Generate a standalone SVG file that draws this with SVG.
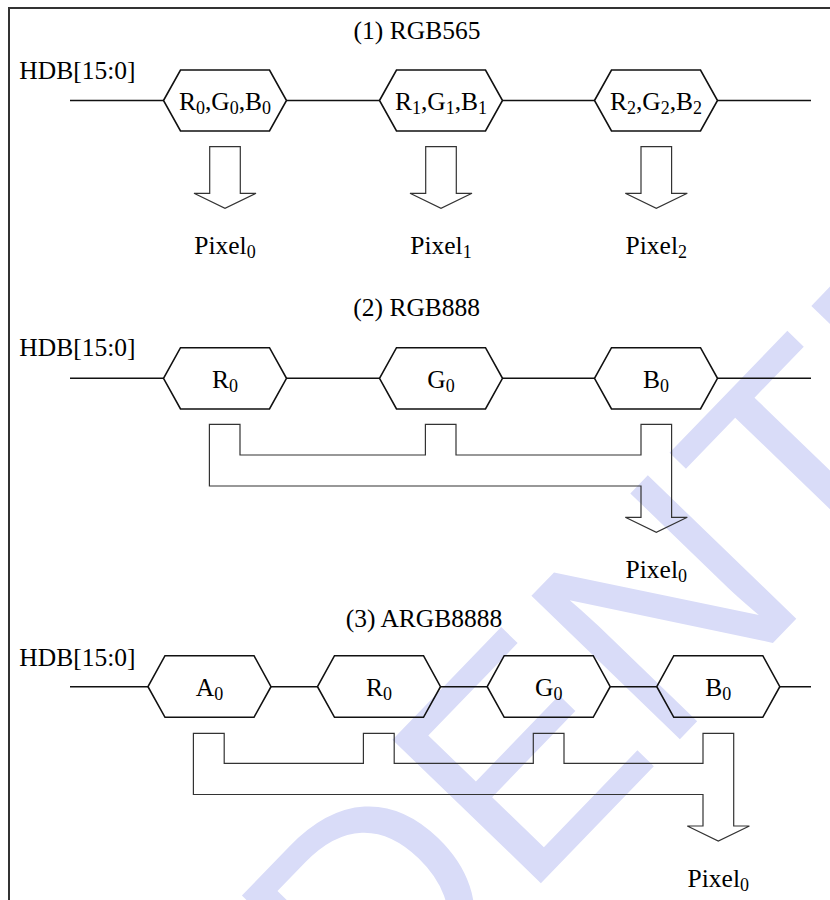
<svg xmlns="http://www.w3.org/2000/svg" width="830" height="900" viewBox="0 0 830 900">
<style>
.t{font-family:"Liberation Serif","Times New Roman",serif;font-size:25.5px;fill:#000}
.s{font-size:18px}
.hex{fill:none;stroke:#111;stroke-width:1.6}
.wire{fill:none;stroke:#111;stroke-width:1.5}
.blk{fill:none;stroke:#333;stroke-width:1.2}
.wm{font-family:"Liberation Sans",Arial,sans-serif;font-size:300px;fill:#d9dcf8}
</style>
<rect width="830" height="900" fill="#fff"/>
<text class="wm" transform="translate(-275,1728) rotate(-46)">CONFIDENTIAL</text>
<path d="M9,900 V8 H830" fill="none" stroke="#333" stroke-width="2"/>

<g id="sec1">
<text class="t" x="417" y="39" text-anchor="middle">(1) RGB565</text>
<text class="t" x="19.3" y="78.5">HDB[15:0]</text>
<g id="s1_p0"><path class="hex" d="M163.5,100.5 L180.5,70 H269.5 L286.5,100.5 L269.5,131 H180.5 Z"/><text class="t" x="225" y="109.7" text-anchor="middle">R<tspan class="s" dy="4">0</tspan><tspan dy="-4">,G</tspan><tspan class="s" dy="4">0</tspan><tspan dy="-4">,B</tspan><tspan class="s" dy="4">0</tspan></text></g>
<g id="s1_p1"><path class="hex" d="M379.5,100.5 L396.5,70 H485.5 L502.5,100.5 L485.5,131 H396.5 Z"/><text class="t" x="441" y="109.7" text-anchor="middle">R<tspan class="s" dy="4">1</tspan><tspan dy="-4">,G</tspan><tspan class="s" dy="4">1</tspan><tspan dy="-4">,B</tspan><tspan class="s" dy="4">1</tspan></text></g>
<g id="s1_p2"><path class="hex" d="M594.5,100.5 L611.5,70 H700.5 L717.5,100.5 L700.5,131 H611.5 Z"/><text class="t" x="656" y="109.7" text-anchor="middle">R<tspan class="s" dy="4">2</tspan><tspan dy="-4">,G</tspan><tspan class="s" dy="4">2</tspan><tspan dy="-4">,B</tspan><tspan class="s" dy="4">2</tspan></text></g>
<g id="s1_a0"><path class="blk" d="M209.7,146.7 H240.3 V193.3 H256 L225,208.3 L194,193.3 H209.7 Z"/><text class="t" x="225" y="254" text-anchor="middle">Pixel<tspan class="s" dy="4">0</tspan></text></g>
<g id="s1_a1"><path class="blk" d="M425.7,146.7 H456.3 V193.3 H472 L441,208.3 L410,193.3 H425.7 Z"/><text class="t" x="441" y="254" text-anchor="middle">Pixel<tspan class="s" dy="4">1</tspan></text></g>
<g id="s1_a2"><path class="blk" d="M641,146.7 H671.6 V193.3 H687.3 L656.3,208.3 L625.3,193.3 H641 Z"/><text class="t" x="656.3" y="254" text-anchor="middle">Pixel<tspan class="s" dy="4">2</tspan></text></g>
</g>

<g id="sec2">
<text class="t" x="416.7" y="316" text-anchor="middle">(2) RGB888</text>
<text class="t" x="19.3" y="355.5">HDB[15:0]</text>
<g id="s2_r"><path class="hex" d="M163.5,378.3 L180.5,347.7 H269.5 L286.5,378.3 L269.5,409 H180.5 Z"/><text class="t" x="225" y="387.5" text-anchor="middle">R<tspan class="s" dy="4">0</tspan></text></g>
<g id="s2_g"><path class="hex" d="M379.5,378.3 L396.5,347.7 H485.5 L502.5,378.3 L485.5,409 H396.5 Z"/><text class="t" x="441" y="387.5" text-anchor="middle">G<tspan class="s" dy="4">0</tspan></text></g>
<g id="s2_b"><path class="hex" d="M594.5,378.3 L611.5,347.7 H700.5 L717.5,378.3 L700.5,409 H611.5 Z"/><text class="t" x="656" y="387.5" text-anchor="middle">B<tspan class="s" dy="4">0</tspan></text></g>
<g id="s2_pix"><text class="t" x="656.3" y="578" text-anchor="middle">Pixel<tspan class="s" dy="4">0</tspan></text></g>
</g>

<g id="sec3">
<text class="t" x="424" y="627" text-anchor="middle">(3) ARGB8888</text>
<text class="t" x="19.3" y="665.5">HDB[15:0]</text>
<g id="s3_a"><path class="hex" d="M148,686.7 L165,655.7 H254 L271,686.7 L254,717.3 H165 Z"/><text class="t" x="209.5" y="696" text-anchor="middle">A<tspan class="s" dy="4">0</tspan></text></g>
<g id="s3_r"><path class="hex" d="M317.5,686.7 L334.5,655.7 H423.5 L440.5,686.7 L423.5,717.3 H334.5 Z"/><text class="t" x="379" y="696" text-anchor="middle">R<tspan class="s" dy="4">0</tspan></text></g>
<g id="s3_g"><path class="hex" d="M487.2,686.7 L504.2,655.7 H593.2 L610.2,686.7 L593.2,717.3 H504.2 Z"/><text class="t" x="548.7" y="696" text-anchor="middle">G<tspan class="s" dy="4">0</tspan></text></g>
<g id="s3_b"><path class="hex" d="M656.8,686.7 L673.8,655.7 H762.8 L779.8,686.7 L762.8,717.3 H673.8 Z"/><text class="t" x="718.3" y="696" text-anchor="middle">B<tspan class="s" dy="4">0</tspan></text></g>
<g id="s3_pix"><text class="t" x="718.3" y="887" text-anchor="middle">Pixel<tspan class="s" dy="4">0</tspan></text></g>
</g>

<g id="connectors">
<path class="wire" d="M70,100.5 H163.5 M286.5,100.5 H379.5 M502.5,100.5 H594.5 M717.5,100.5 H811"/>
<path class="wire" d="M70,378.3 H163.5 M286.5,378.3 H379.5 M502.5,378.3 H594.5 M717.5,378.3 H811"/>
<path class="wire" d="M70,686.7 H148 M271,686.7 H317.5 M440.5,686.7 H487.2 M610.2,686.7 H656.8 M779.8,686.7 H811"/>
<path class="blk" d="M209.4,424.3 H240 V455 H425.4 V424.3 H456 V455 H641 V424.3 H671.6 V517.3 H687.3 L656.3,532.3 L625.3,517.3 H641 V486 H209.4 Z"/>
<path class="blk" d="M193.4,733.3 H224.2 V763.3 H363.4 V733.3 H394.2 V763.3 H533.3 V733.3 H564 V763.3 H703 V733.3 H733.7 V826 H749.4 L718.3,841 L687.3,826 H703 V794.5 H193.4 Z"/>
</g>
</svg>
